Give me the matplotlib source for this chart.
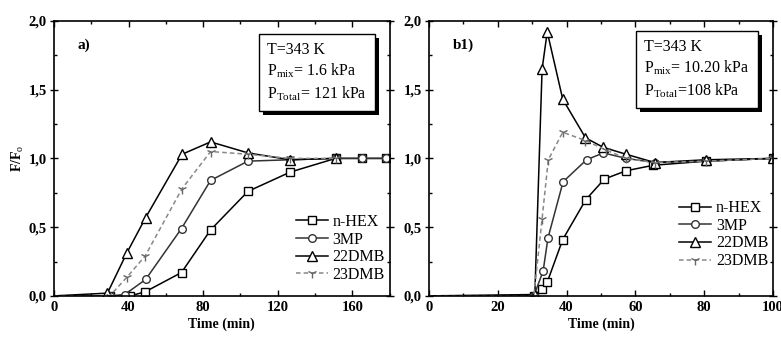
import numpy as np
import matplotlib
matplotlib.use("Agg")
import matplotlib.pyplot as plt
from matplotlib.ticker import MultipleLocator, FuncFormatter
import matplotlib.patheffects as pe

plt.rcParams['font.family'] = 'Liberation Serif'
plt.rcParams['mathtext.fontset'] = 'custom'
plt.rcParams['mathtext.rm'] = 'Liberation Serif'
plt.rcParams['mathtext.it'] = 'Liberation Serif'

series_names = ['n-HEX', '3MP', '22DMB', '23DMB']

# panel a) : T=343 K, Pmix=1.6 kPa
a_hex_t = [0, 30, 41, 49, 68.4, 84, 104, 126.6, 151, 165, 178]
a_hex_y = [0, 0, 0.0, 0.03, 0.17, 0.48, 0.76, 0.90, 1.00, 1.00, 1.00]
a_3mp_t = [0, 30, 38, 49.2, 68.4, 84, 104, 126.6, 151, 165, 178]
a_3mp_y = [0, 0, 0.01, 0.12, 0.49, 0.84, 0.98, 0.99, 1.00, 1.00, 1.00]
a_22_t = [0, 28.7, 39, 49.2, 68.7, 84, 104, 126.6, 151]
a_22_y = [0, 0.02, 0.31, 0.57, 1.03, 1.12, 1.04, 0.99, 1.00]
a_23_t = [0, 30, 39.4, 48.9, 68.7, 84, 104, 126.6, 151]
a_23_y = [0, 0, 0.14, 0.29, 0.78, 1.05, 1.03, 1.00, 1.00]

# panel b1) : T=343 K, Pmix=10.20 kPa
b_hex_t = [0, 30.5, 32.9, 34.4, 38.9, 45.6, 51, 57.3, 65.2, 80.5, 100]
b_hex_y = [0, 0, 0.05, 0.10, 0.41, 0.70, 0.85, 0.91, 0.95, 0.98, 1.00]
b_3mp_t = [0, 30.5, 33.2, 34.6, 39, 45.8, 50.7, 57.3, 65.6, 80.5, 100]
b_3mp_y = [0, 0, 0.18, 0.42, 0.83, 0.99, 1.04, 1.00, 0.97, 0.98, 1.00]
b_22_t = [0, 30.8, 32.9, 34.4, 38.9, 45.5, 50.7, 57.3, 65.6, 80.5, 100]
b_22_y = [0, 0.01, 1.65, 1.92, 1.43, 1.15, 1.08, 1.03, 0.97, 0.99, 1.00]
b_23_t = [0, 30.5, 32.9, 34.7, 38.9, 45.5, 51.5, 57.3, 65.6, 80.5, 100]
b_23_y = [0, 0, 0.56, 0.99, 1.19, 1.13, 1.06, 1.00, 0.97, 0.98, 1.00]

styles = [
    dict(color='black', ls='-', marker='s', ms=5.5, mfc='white', mec='black', lw=1.1),
    dict(color='#333333', ls='-', marker='o', ms=5.5, mfc='white', mec='#333333', lw=1.1),
    dict(color='black', ls='-', marker='^', ms=6.5, mfc='white', mec='black', lw=1.1),
    dict(color='#888888', ls='--', marker='1', ms=7, mfc='#888888', mec='#666666', lw=1.1, dashes=(3, 2)),
]

fig = plt.figure(figsize=(7.81, 3.37), dpi=100)
ax1 = fig.add_axes([0.069, 0.122, 0.430, 0.816])
ax2 = fig.add_axes([0.549, 0.122, 0.441, 0.816])

comma = FuncFormatter(lambda v, p: f"{v:.1f}".replace('.', ','))

def draw(ax, data, xmax, xmajor, xminor, label, boxtext, boxpos, legpos):
    for (t, y), name, st in zip(data, series_names, styles):
        ax.plot(t, y, label=name, markevery=list(range(1, len(t))), **st)
    ax.set_xlim(0, xmax)
    ax.set_ylim(0, 2.0)
    ax.xaxis.set_major_locator(MultipleLocator(xmajor))
    ax.xaxis.set_minor_locator(MultipleLocator(xminor))
    ax.yaxis.set_major_locator(MultipleLocator(0.5))
    ax.yaxis.set_minor_locator(MultipleLocator(0.25))
    ax.yaxis.set_major_formatter(comma)
    ax.tick_params(axis='both', which='both', top=True, right=True,
                   labelsize=10.5, width=1.0, pad=2)
    ax.tick_params(axis='x', which='both', direction='in')
    ax.tick_params(axis='y', which='both', direction='in')
    ax.tick_params(which='major', length=4)
    ax.tick_params(which='minor', length=2.5)
    ax.tick_params(axis='y', which='major', direction='inout', length=6)
    ax.tick_params(axis='x', which='major', pad=4)
    for lab in ax.get_xticklabels() + ax.get_yticklabels():
        lab.set_fontweight('bold')
    for sp in ax.spines.values():
        sp.set_linewidth(1.2)
    ax.set_xlabel('Time (min)', fontsize=10, fontweight='bold', labelpad=2)
    ax.text(0.07, 0.91, label, transform=ax.transAxes, fontsize=11,
            fontweight='bold', va='center')
    t = ax.text(boxpos[0], boxpos[1], boxtext, transform=ax.transAxes,
                fontsize=11.5, va='top', ha='left', linespacing=1.3,
                bbox=dict(boxstyle='square,pad=0.5', fc='white', ec='black', lw=1.0))
    t.get_bbox_patch().set_path_effects([
        pe.SimplePatchShadow(offset=(3, -3), shadow_rgbFace='black', alpha=1.0),
        pe.Normal()])
    leg = ax.legend(loc='lower right', bbox_to_anchor=legpos, frameon=False,
                    fontsize=11.5, handlelength=2.0, handletextpad=0.3,
                    labelspacing=0.1, borderpad=0.1, borderaxespad=0.2)
    return leg

draw(ax1, [(a_hex_t, a_hex_y), (a_3mp_t, a_3mp_y), (a_22_t, a_22_y), (a_23_t, a_23_y)],
     180, 40, 20, 'a)',
     'T=343 K\nP$_{\\mathrm{mix}}$= 1.6 kPa\nP$_{\\mathrm{Total}}$= 121 kPa',
     (0.635, 0.925), (1.0, 0.03))
draw(ax2, [(b_hex_t, b_hex_y), (b_3mp_t, b_3mp_y), (b_22_t, b_22_y), (b_23_t, b_23_y)],
     100, 20, 10, 'b1)',
     'T=343 K\nP$_{\\mathrm{mix}}$= 10.20 kPa\nP$_{\\mathrm{Total}}$=108 kPa',
     (0.625, 0.935), (1.0, 0.08))

ax1.set_ylabel('F/F$_{\\mathrm{o}}$', fontsize=10, fontweight='bold', labelpad=2)

fig.savefig('out.png', dpi=100)
